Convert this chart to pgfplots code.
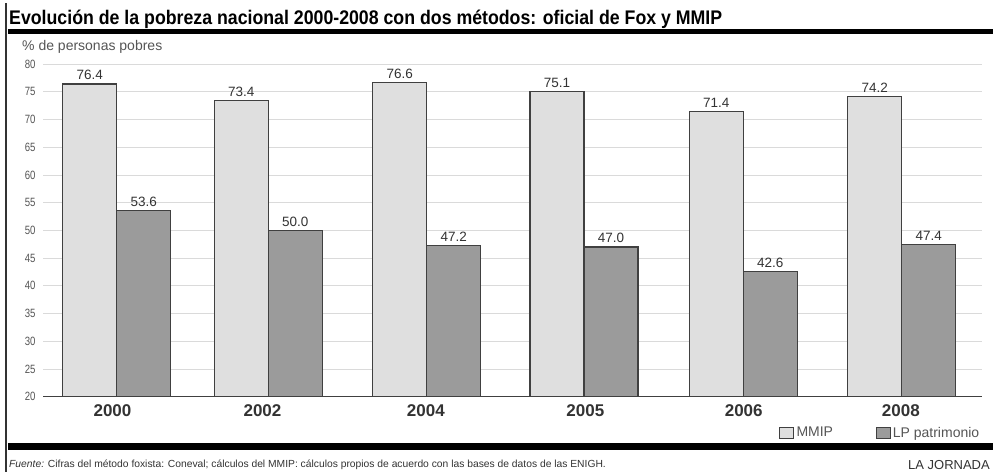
\documentclass[border=0pt]{standalone}
\usepackage{fontspec}
\setmainfont{Liberation Sans}
\newfontfamily\titlefont[FakeStretch=0.9]{Liberation Sans}
\newfontfamily\tickfont[FakeStretch=0.8]{Liberation Sans}
\usepackage{pgfplots}
\pgfplotsset{compat=1.18}
\definecolor{lightbar}{HTML}{DFDFDF}
\definecolor{darkbar}{HTML}{9B9B9B}
\definecolor{edge}{HTML}{404040}
\definecolor{txt}{HTML}{333333}
\definecolor{gridc}{HTML}{DADADA}
\definecolor{gtext}{HTML}{555555}
\begin{document}
\begin{tikzpicture}[x=1pt,y=1pt]
\useasboundingbox (0,0) rectangle (993,-472);
\fill[white] (0,0) rectangle (993,-472);
\node[anchor=base west, inner sep=0pt, font=\titlefont\bfseries\fontsize{19.7}{20}\selectfont] at (9,-24) {Evolución de la pobreza nacional 2000-2008 con dos métodos: oficial de Fox y MMIP};
\fill[black] (8,-29) rectangle (993,-34);
\draw[line width=1.5pt, txt] (6,-3) -- (6,-472);
\node[anchor=base west, inner sep=0pt, text=gtext, font=\fontsize{14}{14}\selectfont] at (22,-50) {\% de personas pobres};
\begin{axis}[
  at={(43pt,-396.7pt)}, anchor=south west,
  scale only axis, width=938.7pt, height=332.7pt,
  xmin=43, xmax=981.7, ymin=20, ymax=80,
  ybar, bar width=54,
  axis x line*=bottom, axis y line*=left,
  y axis line style={draw=none},
  x axis line style={edge, line width=1.3pt},
  ytick={20,25,...,80},
  ymajorgrids, grid style={gridc, line width=0.8pt},
  major tick length=0pt,
  xtick={112.5,262.5,425.8,585.3,743.7,900.8},
  xticklabels={2000,2002,2004,2005,2006,2008},
  xticklabel style={font=\bfseries\fontsize{17}{17}\selectfont, text=txt, yshift=-4pt},
  yticklabel style={font=\tickfont\fontsize{12}{12}\selectfont, text=gtext, xshift=-4pt},
  /pgf/number format/assume math mode=true,
  nodes near coords={\pgfmathprintnumber[fixed,fixed zerofill,precision=1]{\pgfplotspointmeta}},
  nodes near coords style={font=\fontsize{13.5}{13.5}\selectfont, text=txt},
  clip=false,
  legend columns=2,
  legend style={draw=none, fill=none, at={(axis cs:779,13.5)}, anchor=west,
    font=\fontsize{14}{14}\selectfont, text=gtext, inner sep=0pt,
    nodes={inner sep=2.5pt},
    /tikz/every even column/.append style={column sep=40pt}},
  legend image code/.code={\draw[#1, line width=0.8pt] (0pt,-5.5pt) rectangle (14pt,5.5pt);},
]
\addplot[fill=lightbar, draw=edge, line width=1.2pt, bar shift=-27] coordinates {
  (116.7,76.4) (268.3,73.4) (426.7,76.6) (584,75.1) (743.3,71.4) (901.7,74.2)};
\addplot[fill=darkbar, draw=edge, line width=1.2pt, bar shift=27] coordinates {
  (116.7,53.6) (268.3,50.0) (426.7,47.2) (584,47.0) (743.3,42.6) (901.7,47.4)};
\legend{MMIP, LP patrimonio}
\end{axis}
\fill[black] (8,-443) rectangle (993,-450);
\node[anchor=base west, inner sep=0pt, font=\fontsize{10.3}{10.3}\selectfont, text=txt] at (9,-467) {\textit{Fuente:} Cifras del método foxista: Coneval; cálculos del MMIP: cálculos propios de acuerdo con las bases de datos de las ENIGH.};
\node[anchor=base east, inner sep=0pt, font=\fontsize{13}{13}\selectfont, text=txt] at (990,-469) {LA JORNADA};
\end{tikzpicture}
\end{document}
